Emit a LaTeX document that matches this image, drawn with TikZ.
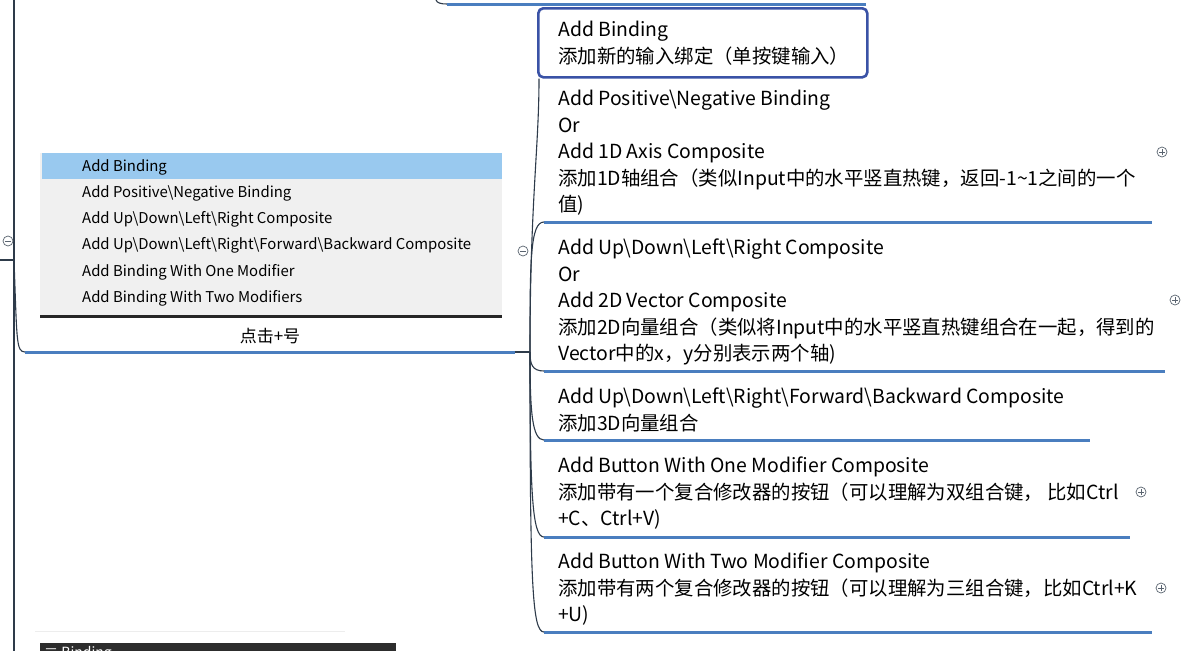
\documentclass[tikz,border=0pt]{standalone}
\usepackage{fontspec}
\setmainfont{Noto Sans CJK SC}
\usetikzlibrary{positioning}

\definecolor{ulblue}{HTML}{4A7EBF}
\definecolor{selblue}{HTML}{3A52A6}
\definecolor{linkgray}{HTML}{2E3B4A}
\definecolor{menugray}{HTML}{F0F0F0}
\definecolor{menusel}{HTML}{99C9EF}
\definecolor{btngray}{HTML}{5A6470}
\definecolor{darkbar}{HTML}{2D2D2D}

\begin{document}
\begin{tikzpicture}[x=1pt, y=-1pt, line join=round]
    \tikzset{
      topic/.style = {anchor=north west, inner sep=0pt, align=left, font=\fontsize{19.4}{26.5}\selectfont, execute at begin node=\strut},
      menuitem/.style = {anchor=base west, inner sep=0pt, font=\fontsize{14.9}{17}\selectfont},
      menubox/.style = {anchor=north west, rectangle, inner sep=0pt, fill=menugray, minimum width=462pt, minimum height=164pt},
      selbox/.style = {anchor=north west, rectangle, rounded corners=5pt, draw=selblue, line width=2.6pt, fill=white, minimum width=329pt, minimum height=69pt},
      uline/.style = {ulblue, line width=3pt},
      link/.style = {linkgray, line width=1.1pt},
      fold/.style = {circle, draw=btngray, line width=0.7pt, minimum size=10pt, inner sep=0pt, fill=white},
      foldminus/.style = {fold, path picture={\draw[btngray, line width=0.7pt] ([xshift=-2.6pt]path picture bounding box.center) -- ([xshift=2.6pt]path picture bounding box.center);}},
      foldplus/.style = {fold, path picture={\draw[btngray, line width=0.7pt] ([xshift=-2.6pt]path picture bounding box.center) -- ([xshift=2.6pt]path picture bounding box.center) ([yshift=-2.6pt]path picture bounding box.center) -- ([yshift=2.6pt]path picture bounding box.center);}}
    }
    \useasboundingbox[fill=white] (0,0) rectangle (1201,651);

    % left trunk
    \coordinate (lin) at (0,260);
    \coordinate (lhub) at (14,260);
    \coordinate (ltop) at (14,0);
    \coordinate (lbot) at (14,651);
    \coordinate (mu) at (25,352);
    \coordinate (me) at (515,352);
    \coordinate (hub) at (530,352);
    \draw [link] (lin) -- (lhub);
    \draw [link] (ltop) -- (lbot);
    \draw [link] (lhub) .. controls +(3,80) and +(-9,0) .. (mu);
    \node (lfold) [foldminus] at (8,241) {};

    % menu screenshot
    \node (menu) [menubox] at (40,153) {};
    \fill [menusel] (42,153) rectangle (502,179);
    \draw [black!85, line width=2.6pt] (40,316.5) -- (502,316.5);
    \foreach \txt [count=\i] in {Add Binding, Add Positive\textbackslash Negative Binding, Add Up\textbackslash Down\textbackslash Left\textbackslash Right Composite, Add Up\textbackslash Down\textbackslash Left\textbackslash Right\textbackslash Forward\textbackslash Backward Composite, Add Binding With One Modifier, Add Binding With Two Modifiers}
      \node (item\i) [menuitem] at (82, 171+26.3*\i-26.3) {\txt};
    \node (caption) [font=\fontsize{17}{20}\selectfont, inner sep=0pt] at (270,336) {点击+号};
    \draw [uline] (mu) -- (me);
    \draw [link] (me) -- (hub);
    \node (hfold) [foldminus] at (523,251) {};

    % partial topic above
    \coordinate (top0) at (436,0);
    \coordinate (u0) at (447,4);
    \draw [link] (top0) .. controls +(1,3) and +(-6,0) .. (u0);
    \draw [uline] (u0) -- (866,4);

    % selected topic
    \node (t1box) [selbox] at (537,7) {};
    \node (t1) [topic] at (558,21) {Add Binding\\添加新的输入绑定（单按键输入）};

    \node (t2) [topic] at (558,90) {Add Positive\textbackslash Negative Binding\\Or\\Add 1D Axis Composite\\添加1D轴组合（类似Input中的水平竖直热键，返回-1\textasciitilde 1之间的一个\\值)};
    \node (t3) [topic] at (558,239) {Add Up\textbackslash Down\textbackslash Left\textbackslash Right Composite\\Or\\Add 2D Vector Composite\\添加2D向量组合（类似将Input中的水平竖直热键组合在一起，得到的\\Vector中的x，y分别表示两个轴)};
    \node (t4) [topic] at (558,388) {Add Up\textbackslash Down\textbackslash Left\textbackslash Right\textbackslash Forward\textbackslash Backward Composite\\添加3D向量组合};
    \node (t5) [topic] at (558,457) {Add Button With One Modifier Composite\\添加带有一个复合修改器的按钮（可以理解为双组合键， 比如Ctrl\\+C、Ctrl+V)};
    \node (t6) [topic] at (558,553) {Add Button With Two Modifier Composite\\添加带有两个复合修改器的按钮（可以理解为三组合键，比如Ctrl+K\\+U)};

    \coordinate (u2) at (544,222);
    \coordinate (u3) at (544,371);
    \coordinate (u4) at (544,440);
    \coordinate (u5) at (544,537);
    \coordinate (u6) at (544,632);
    \draw [uline] (u2) -- (1152,222);
    \draw [uline] (u3) -- (1165,371);
    \draw [uline] (u4) -- (1090,440);
    \draw [uline] (u5) -- (1130,537);
    \draw [uline] (u6) -- (1152,632);

    \draw [link] (hub) .. controls +(0,-150) and +(0,70) .. ([xshift=2pt]t1box.south west);
    \draw [link] (hub) .. controls +(0,-90) and +(-14,0) .. (u2);
    \draw [link] (hub) .. controls +(0,12) and +(-12,0) .. (u3);
    \draw [link] (hub) .. controls +(0,60) and +(-12,0) .. (u4);
    \draw [link] (hub) .. controls +(0,140) and +(-12,0) .. (u5);
    \draw [link] (hub) .. controls +(0,230) and +(-12,0) .. (u6);

    \node (f2) [foldplus] at (1162,152) {};
    \node (f3) [foldplus] at (1175,300) {};
    \node (f5) [foldplus] at (1141,492) {};
    \node (f6) [foldplus] at (1161,588) {};

    % panel cut off at the bottom
    \draw [black!7, line width=1pt] (35,631) -- (345,631);
    \begin{scope}
      \clip (40,643) rectangle (396,651);
      \fill [darkbar] (40,643) rectangle (396,651);
      \node (panel) [anchor=base west, inner sep=0pt, text=white, font=\fontsize{14}{16}\selectfont] at (44,657) {≡ Binding};
    \end{scope}
\end{tikzpicture}
\end{document}
